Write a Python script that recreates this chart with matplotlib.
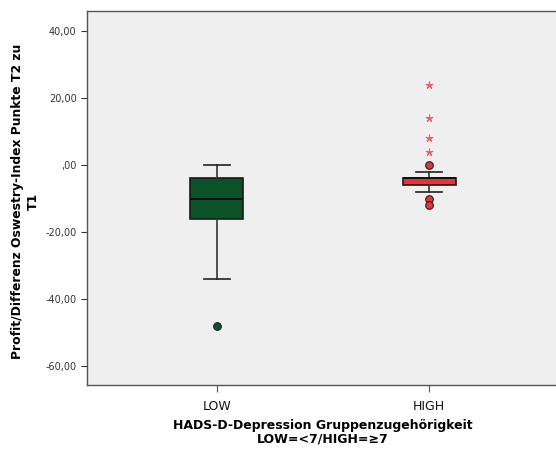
import matplotlib
matplotlib.use("Agg")
import matplotlib.pyplot as plt
import matplotlib.ticker as ticker

# Gruppen und Kennwerte der Boxplots (Differenz T2 - T1)
gruppen = ["LOW", "HIGH"]
positionen = [1, 2]
q1 = [-16, -6]
median = [-10, -4]
q3 = [-4, -4]
whisker_unten = [-34, -8]
whisker_oben = [0, -2]
ausreisser = [[-48], [0, -10, -12]]
extremwerte = [[], [24, 14, 8, 4]]

farben = ["#0B5229", "#E8333A"]
stern_farbe = "#F25A62"

fig = plt.figure(figsize=(5.56, 4.5), dpi=100)
ax = fig.add_axes([87 / 556, 65 / 450, 472 / 556, 374 / 450])
ax.set_facecolor("#EFEFEF")

stats = []
for i in range(len(gruppen)):
    stats.append({
        "label": gruppen[i],
        "q1": q1[i],
        "med": median[i],
        "q3": q3[i],
        "whislo": whisker_unten[i],
        "whishi": whisker_oben[i],
        "fliers": [],
    })

bp = ax.bxp(
    stats,
    positions=positionen,
    widths=0.25,
    patch_artist=True,
    showfliers=False,
    boxprops=dict(edgecolor="#1a1a1a", linewidth=1.2),
    medianprops=dict(color="#111111", linewidth=1.4),
    whiskerprops=dict(color="#333333", linewidth=1.2),
    capprops=dict(color="#222222", linewidth=1.2),
    capwidths=0.125,
)
for box, farbe in zip(bp["boxes"], farben):
    box.set_facecolor(farbe)

for pos, werte, farbe in zip(positionen, ausreisser, farben):
    ax.plot([pos] * len(werte), werte, "o", ms=5.5, mfc=farbe,
            mec="#222222", mew=0.8, ls="none")

for pos, werte in zip(positionen, extremwerte):
    ax.plot([pos] * len(werte), werte, marker=(5, 2, 0), ms=5.5,
            color=stern_farbe, mew=0.8, ls="none")

ax.set_xlim(0.387, 2.613)
ax.set_ylim(-65.7, 46)
ax.set_xticks(positionen)
ax.set_xticklabels(gruppen, fontsize=9, color="#111111")
ax.set_yticks([40, 20, 0, -20, -40, -60])


def komma_format(x, _):
    s = f"{x:.2f}".replace(".", ",")
    if s.startswith("0,"):
        s = s[1:]
    return s


ax.yaxis.set_major_formatter(ticker.FuncFormatter(komma_format))
ax.tick_params(axis="y", labelsize=7, colors="#333333", length=4, width=0.8)
ax.tick_params(axis="x", length=5, width=0.8, colors="#555555", labelcolor="#111111", pad=6)

for side in ["left", "top", "bottom", "right"]:
    ax.spines[side].set_color("#555555")
    ax.spines[side].set_linewidth(1.0)

ax.set_ylabel("Profit/Differenz Oswestry-Index Punkte T2 zu\nT1",
              fontsize=8.9, fontweight="bold", linespacing=1.25)
ax.yaxis.set_label_coords(-47 / 472, (450 - 201 - 65) / 374)
ax.set_xlabel("HADS-D-Depression Gruppenzugehörigkeit\nLOW=<7/HIGH=≥7",
              fontsize=9, fontweight="bold", linespacing=1.05)
ax.xaxis.set_label_coords((323 - 87) / 472, -0.09)

fig.savefig("out.png", dpi=100, facecolor="white")
